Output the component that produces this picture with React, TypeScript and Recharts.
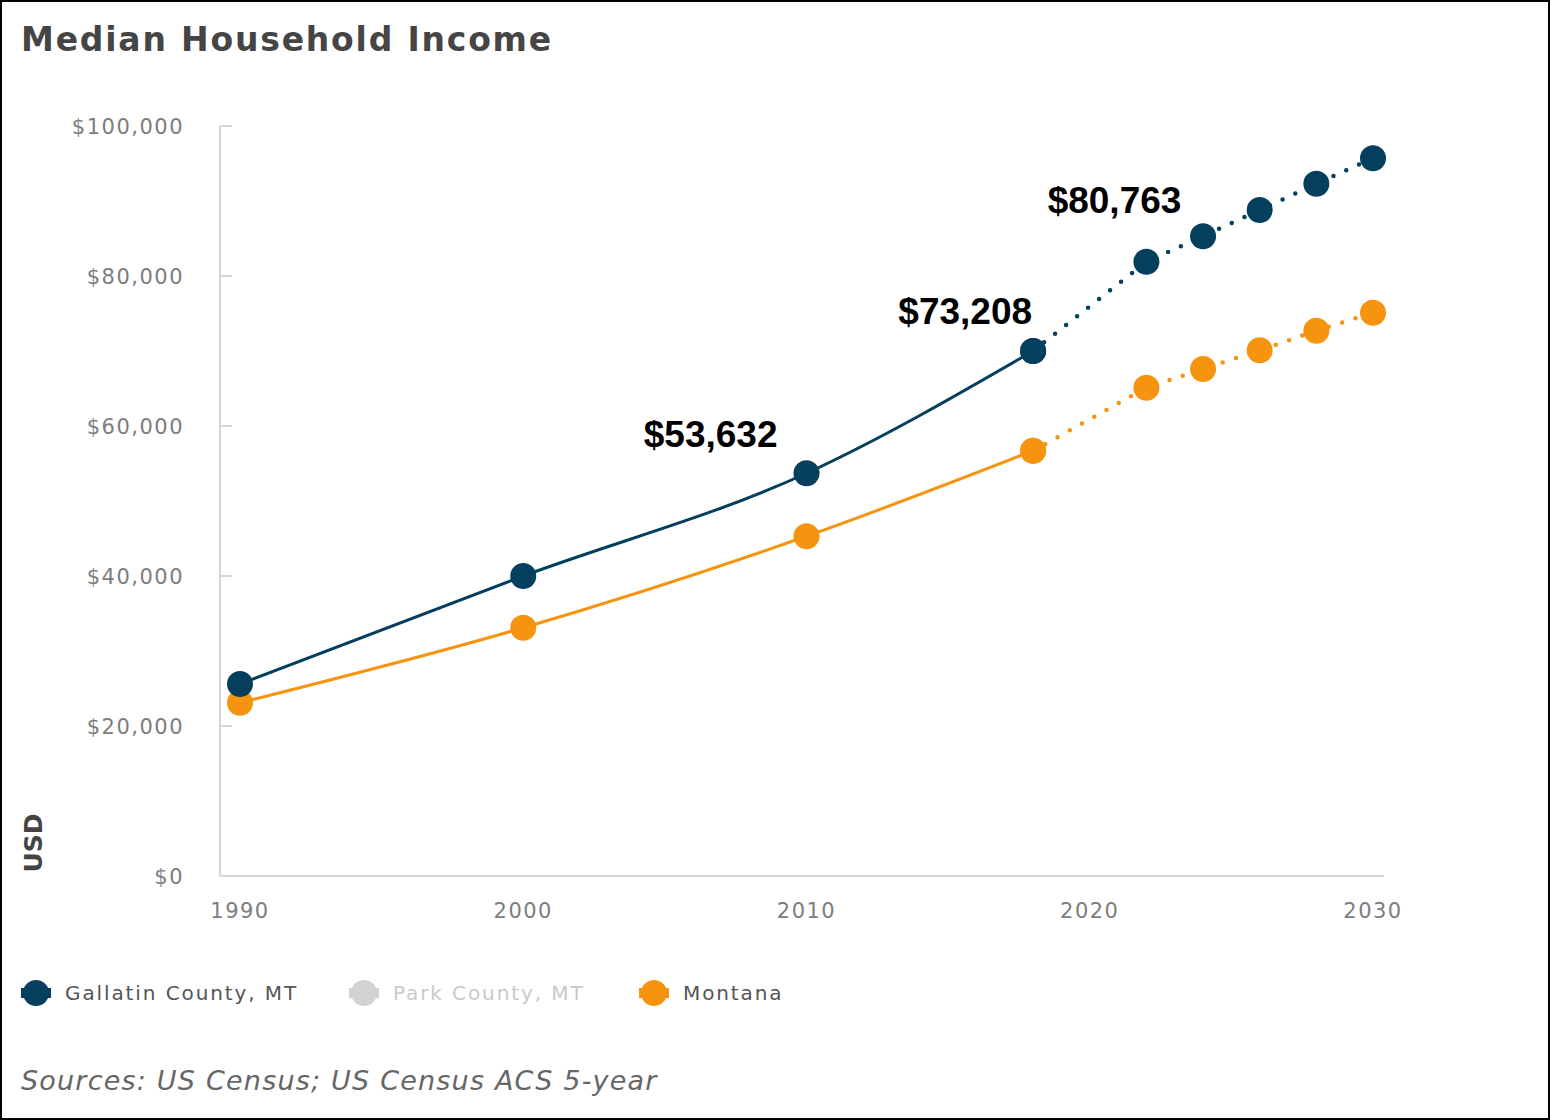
import { LineChart, Line, XAxis, YAxis, LabelList } from "recharts";

// --- data ---
const years = [1990, 2000, 2010, 2018, 2022, 2024, 2026, 2028, 2030];
const gallatinIncome = [25600, 40000, 53700, 70000, 81900, 85300, 88800, 92300, 95700];
const montanaIncome = [23100, 33100, 45300, 56700, 65100, 67600, 70100, 72700, 75100];
const LAST_ACTUAL_YEAR = 2018;

const xTicks = [1990, 2000, 2010, 2020, 2030];
const yTicks = [0, 20000, 40000, 60000, 80000, 100000];

const calloutYears = [2010, 2018, 2022];
const calloutLabels = ["$53,632", "$73,208", "$80,763"];

const legendNames = ["Gallatin County, MT", "Park County, MT", "Montana"];

// --- styling ---
const NAVY = "#053f5e";
const ORANGE = "#f7940f";
const PARK_GREY = "#d2d2d2";
const AXIS_GREY = "#d6d6d6";
const TICK_GREY = "#7d7d7d";
const FONT = "'DejaVu Sans', sans-serif";
const Y_TICK_GAP = 36;
const calloutOffsets = [
  [-29, -26],
  [-1, -27],
  [35, -49],
];
const legendColors = [NAVY, PARK_GREY, ORANGE];
const legendTextColors = ["#555", "#c9c9c9", "#555"];
const legendX = [36, 364, 654];

const rows = years.map((year, i) => {
  const c = calloutYears.indexOf(year);
  return {
    year,
    gallatin: gallatinIncome[i],
    gallatinActual: year <= LAST_ACTUAL_YEAR ? gallatinIncome[i] : null,
    gallatinProjected: year >= LAST_ACTUAL_YEAR ? gallatinIncome[i] : null,
    montanaActual: year <= LAST_ACTUAL_YEAR ? montanaIncome[i] : null,
    montanaProjected: year >= LAST_ACTUAL_YEAR ? montanaIncome[i] : null,
    note: c >= 0 ? calloutLabels[c] : null,
  };
});

const money = (v: number) => "$" + v.toLocaleString("en-US");

function YTick(props: any) {
  const { x, y, payload } = props;
  return (
    <g>
      <line x1={x + Y_TICK_GAP} x2={x + Y_TICK_GAP + 12} y1={y} y2={y} stroke={AXIS_GREY} strokeWidth={2} />
      <text x={x} y={y} dy="0.36em" textAnchor="end" fill={TICK_GREY} fontSize={21} letterSpacing={1.5} fontFamily={FONT}>
        {money(payload.value)}
      </text>
    </g>
  );
}

function Callout(props: any) {
  const { x, y, value, index } = props;
  if (!value) return null;
  const c = calloutYears.indexOf(rows[index].year);
  const [dx, dy] = calloutOffsets[c];
  return (
    <text x={x + dx} y={y + dy} textAnchor="end" fontSize={37} fontWeight={700} fill="#000" fontFamily="'Liberation Sans', Arial, sans-serif">
      {value}
    </text>
  );
}

function LegendMarker({ color }: { color: string }) {
  return (
    <svg width={32} height={28} style={{ position: "absolute", left: -16, top: -14 }}>
      <rect x={1} y={9} width={30} height={10} fill={color} />
      <circle cx={16} cy={14} r={13} fill={color} />
    </svg>
  );
}

export default function App() {
  return (
    <div style={{ position: "absolute", left: 0, top: 0, width: 1550, height: 1120, background: "#fff", fontFamily: FONT }}>
      <div
        style={{
          position: "absolute",
          left: 21,
          top: 39,
          transform: "translateY(-50%)",
          fontSize: 33,
          lineHeight: 1,
          fontWeight: 700,
          color: "#454545",
          letterSpacing: 1.8,
          whiteSpace: "nowrap",
        }}
      >
        Median Household Income
      </div>

      <div
        style={{
          position: "absolute",
          left: 33,
          top: 843,
          transform: "translate(-50%, -50%) rotate(-90deg)",
          fontSize: 25,
          lineHeight: 1,
          fontWeight: 700,
          color: "#444",
          whiteSpace: "nowrap",
        }}
      >
        USD
      </div>

      <div style={{ position: "absolute", left: 0, top: 0 }}>
        <LineChart width={1550} height={1120} data={rows} margin={{ top: 126, right: 166, bottom: 204, left: 140 }}>
          <XAxis
            dataKey="year"
            type="number"
            domain={[1990, 2030]}
            ticks={xTicks}
            padding={{ left: 20, right: 11 }}
            height={40}
            tickLine={false}
            tickSize={0}
            tickMargin={27}
            axisLine={{ stroke: AXIS_GREY, strokeWidth: 2 }}
            tick={{ fill: TICK_GREY, fontSize: 21, letterSpacing: 1.5, fontFamily: FONT }}
          />
          <YAxis
            type="number"
            domain={[0, 100000]}
            ticks={yTicks}
            width={80}
            tickLine={false}
            tickSize={0}
            tickMargin={Y_TICK_GAP}
            axisLine={{ stroke: AXIS_GREY, strokeWidth: 2 }}
            tick={<YTick />}
          />
          <Line
            dataKey="montanaActual"
            type="monotone"
            stroke={ORANGE}
            strokeWidth={3}
            dot={{ r: 13, fill: ORANGE, stroke: "none" }}
            activeDot={false}
            isAnimationActive={false}
          />
          <Line
            dataKey="montanaProjected"
            type="linear"
            stroke={ORANGE}
            strokeWidth={4.5}
            strokeDasharray="0 14"
            strokeLinecap="round"
            dot={{ r: 13, fill: ORANGE, stroke: "none" }}
            activeDot={false}
            isAnimationActive={false}
          />
          <Line
            dataKey="gallatinActual"
            type="monotone"
            stroke={NAVY}
            strokeWidth={3}
            dot={{ r: 13, fill: NAVY, stroke: "none" }}
            activeDot={false}
            isAnimationActive={false}
          />
          <Line
            dataKey="gallatinProjected"
            type="linear"
            stroke={NAVY}
            strokeWidth={4.5}
            strokeDasharray="0 14"
            strokeLinecap="round"
            dot={{ r: 13, fill: NAVY, stroke: "none" }}
            activeDot={false}
            isAnimationActive={false}
          />
          {/* invisible carrier for the call-out values */}
          <Line dataKey="gallatin" stroke="none" dot={false} activeDot={false} legendType="none" isAnimationActive={false}>
            <LabelList dataKey="note" content={<Callout />} />
          </Line>
        </LineChart>
      </div>

      {legendNames.map((name, i) => (
        <div key={name} style={{ position: "absolute", left: legendX[i], top: 993 }}>
          <LegendMarker color={legendColors[i]} />
          <div
            style={{
              position: "absolute",
              left: 29,
              top: 0,
              transform: "translateY(-50%)",
              fontSize: 20,
              lineHeight: 1,
              color: legendTextColors[i],
              whiteSpace: "nowrap",
              letterSpacing: 1.9,
            }}
          >
            {name}
          </div>
        </div>
      ))}

      <div
        style={{
          position: "absolute",
          left: 21,
          top: 1080,
          transform: "translateY(-50%)",
          fontSize: 27,
          lineHeight: 1,
          fontStyle: "italic",
          color: "#666",
          whiteSpace: "nowrap",
          letterSpacing: 1.2,
        }}
      >
        Sources: US Census; US Census ACS 5-year
      </div>

      <div style={{ position: "absolute", inset: 0, border: "2px solid #000", pointerEvents: "none" }} />
    </div>
  );
}
